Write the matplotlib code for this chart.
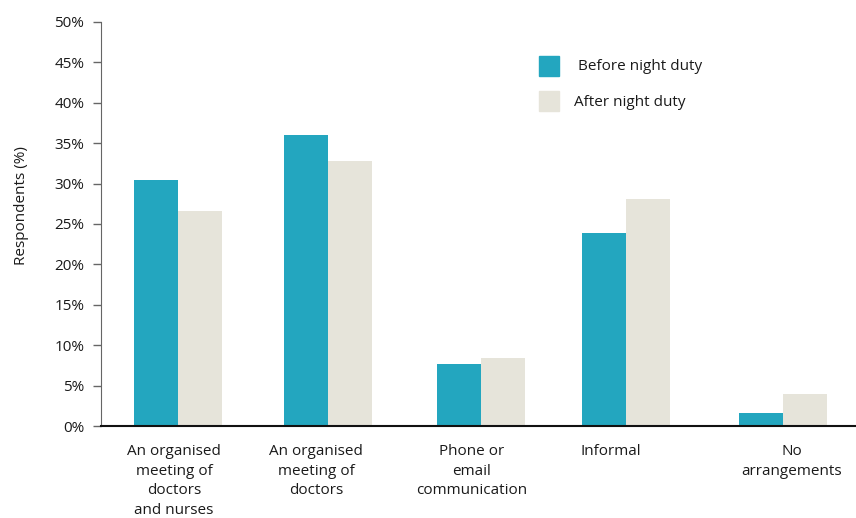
import matplotlib
matplotlib.use("Agg")
import matplotlib.pyplot as plt
from matplotlib.patches import Rectangle
import numpy as np

categories = ["An organised\nmeeting of\ndoctors\nand nurses",
              "An organised\nmeeting of\ndoctors",
              "Phone or\nemail\ncommunication",
              "Informal",
              "No\narrangements"]
before = [30.5, 36.0, 7.7, 23.9, 1.6]
after = [26.6, 32.8, 8.4, 28.1, 4.0]
series_names = ["Before night duty", "After night duty"]
yticks = [0, 5, 10, 15, 20, 25, 30, 35, 40, 45, 50]

# layout: group centres and label centres (in category units)
bar_pos = np.array([0, 0.993, 2.007, 2.967, 4.007])
label_pos = np.array([-0.026, 0.914, 1.947, 2.868, 4.066])

c_before = "#23A6BF"
c_after = "#E6E4DA"
txt = "#1a1a1a"

plt.rcParams['font.family'] = ['Open Sans', 'DejaVu Sans']

fig = plt.figure(figsize=(8.56, 5.18), dpi=100)
ax = fig.add_axes([0.118, 0.1776, 0.882, 0.78])

w = 0.29
ax.bar(bar_pos - w/2, before, width=w, color=c_before, align='center')
ax.bar(bar_pos + w/2, after, width=w, color=c_after, align='center')

ax.set_xlim(-0.51, 4.49)
ax.set_ylim(0, 50)
ax.set_yticks(yticks)
ax.set_yticklabels([f"{v}%" for v in yticks], fontsize=11, color=txt)
ax.set_xticks(label_pos)
ax.set_xticklabels(categories, fontsize=11, color=txt, linespacing=1.42, va='top')
ax.tick_params(axis='x', length=0, pad=13)
ax.tick_params(axis='y', length=6, width=1, color="#666666", pad=6)

for s in ['top', 'right']:
    ax.spines[s].set_visible(False)
ax.spines['left'].set_color("#666666")
ax.spines['bottom'].set_color("#111111")
ax.spines['bottom'].set_linewidth(1.5)

ax.set_ylabel("Respondents (%)", fontsize=11, color=txt)
ax.yaxis.set_label_coords(-0.096, 0.545)

# legend
W, H = 856, 518
for i, (name, col, tx) in enumerate(zip(series_names, [c_before, c_after], [578, 574])):
    y0 = 56 + i * 35
    fig.patches.append(Rectangle((539 / W, 1 - (y0 + 20) / H), 20 / W, 20 / H,
                                 transform=fig.transFigure, color=col))
    fig.text(tx / W, 1 - (y0 + 11) / H, name, fontsize=11, color=txt, va='center')

fig.savefig("out.png", dpi=100)
